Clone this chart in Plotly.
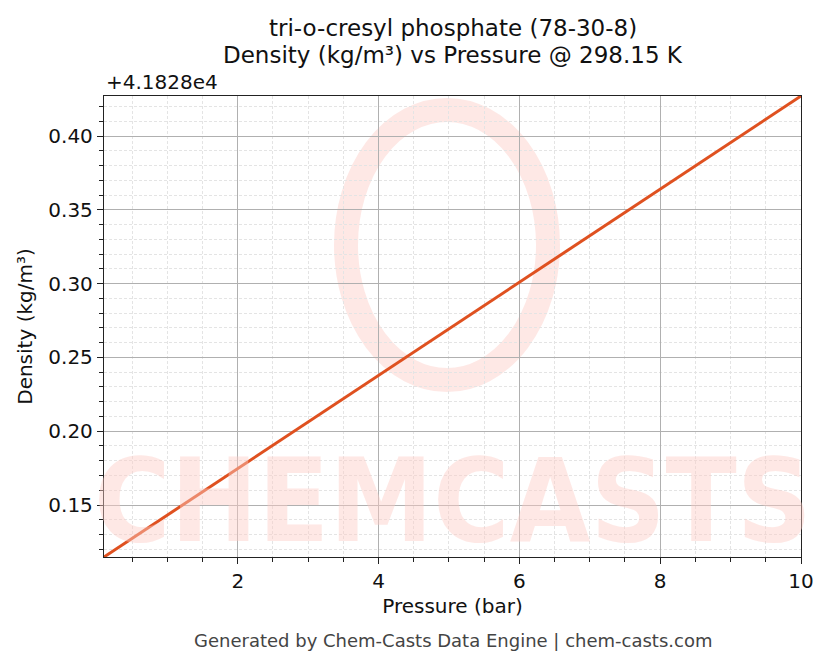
import plotly.graph_objects as go

# Density of tri-o-cresyl phosphate vs pressure at 298.15 K
pressure_bar = [0.1, 1, 2, 3, 4, 5, 6, 7, 8, 9, 10]
density_kgm3 = [41828.1148, 41828.1432, 41828.1748, 41828.2063, 41828.2379,
                41828.2694, 41828.3010, 41828.3325, 41828.3641, 41828.3956,
                41828.4271]
y_offset = 41828  # matplotlib-style offset shown above the y axis

title_lines = ["tri-o-cresyl phosphate (78-30-8)",
               "Density (kg/m³) vs Pressure @ 298.15 K"]
footer = "Generated by Chem-Casts Data Engine | chem-casts.com"

font = "DejaVu Sans"
wm = "rgba(252, 205, 198, 0.45)"

# plot box in window pixels (page has an 8px body margin)
L, R, T, B = 104, 801, 96, 557
PW, PH = R - L, B - T


def px(x):
    return (x - L) / PW


def py(y):
    return (B - y) / PH


fig = go.Figure()
fig.add_trace(go.Scatter(
    x=pressure_bar,
    y=[d - y_offset for d in density_kgm3],
    mode="lines",
    line=dict(color="#DF5120", width=3),
    showlegend=False,
))

axis_common = dict(
    showline=True, linecolor="#222", linewidth=1.3, mirror=True,
    ticks="outside", ticklen=6, tickwidth=1.3, tickcolor="#222",
    showgrid=True, gridcolor="#b0b0b0", gridwidth=0.8,
    zeroline=False, automargin=False,
    tickfont=dict(family=font, size=20, color="#111"),
    minor=dict(ticks="outside", ticklen=3.5, tickcolor="#222", tickwidth=1,
               showgrid=True, gridcolor="#e4e4e4", griddash="3px,2px", gridwidth=0.6),
)

fig.update_xaxes(
    range=[0.1, 10], dtick=2, tick0=0,
    title=dict(text="Pressure (bar)", font=dict(family=font, size=20, color="#111"), standoff=6),
    **axis_common,
)
fig.update_xaxes(minor_dtick=0.5)
fig.update_yaxes(
    range=[0.1148, 0.4271], dtick=0.05, tick0=0, tickformat=".2f",
    title=dict(text="Density (kg/m³)", font=dict(family=font, size=20, color="#111"), standoff=10),
    **axis_common,
)
fig.update_yaxes(minor_dtick=0.01)

# watermark: ring logo + big text
fig.add_shape(type="circle", xref="paper", yref="paper",
              x0=px(346), x1=px(548), y0=py(380), y1=py(110),
              line=dict(color=wm, width=24), layer="below")
fig.add_annotation(text="<b>CHEMCASTS</b>", xref="paper", yref="paper",
                   x=0.5, y=py(500), yanchor="middle", showarrow=False,
                   font=dict(family="DejaVu Sans Condensed", size=116, color=wm))

fig.add_annotation(text="+4.1828e4", xref="paper", yref="paper",
                   x=0, y=1, xanchor="left", yanchor="bottom", showarrow=False,
                   font=dict(family=font, size=20, color="#111"))
fig.add_annotation(text=footer, xref="paper", yref="paper",
                   x=0.5, y=py(640), xanchor="center", yanchor="middle", showarrow=False,
                   font=dict(family=font, size=18, color="#444"))
fig.add_annotation(text=title_lines[0], xref="paper", yref="paper",
                   x=0.5, y=py(28), xanchor="center", yanchor="middle", showarrow=False,
                   font=dict(family=font, size=23, color="#111"))
fig.add_annotation(text=title_lines[1], xref="paper", yref="paper",
                   x=0.5, y=py(55), xanchor="center", yanchor="middle", showarrow=False,
                   font=dict(family=font, size=23, color="#111"))

fig.update_layout(
    width=814, height=650,
    margin=dict(l=L - 8, r=814 - (R - 8), t=T - 8, b=650 - (B - 8)),
    paper_bgcolor="white", plot_bgcolor="white",
)

fig.write_html("out.html")
